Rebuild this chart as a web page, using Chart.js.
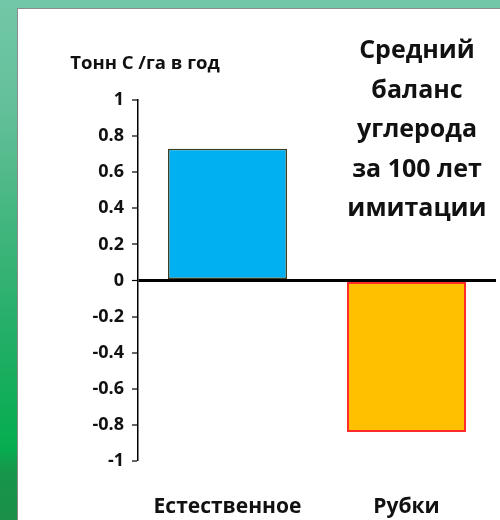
<!DOCTYPE html>
<html>
<head>
<meta charset="utf-8">
<script src="https://cdn.jsdelivr.net/npm/chart.js@4/dist/chart.umd.min.js"></script>
<style>
  html, body { margin: 0; padding: 0; }
  body {
    width: 500px;
    height: 520px;
    overflow: hidden;
    background: linear-gradient(#72c8a8 0%, #62bf98 22%, #3fb57c 45%, #22ae66 65%, #06ad50 86%, #17964b 91%, #1b8f48 100%);
    position: relative;
  }
  .frame {
    position: absolute;
    left: 17px;
    top: 8px;
    width: 483px;
    height: 512px;
    background: #fff;
    border-left: 1px solid #8c8c8c;
    border-top: 1px solid #8c8c8c;
    box-sizing: border-box;
  }
  canvas { display: block; }
</style>
</head>
<body>
<div class="frame">
  <canvas id="balance" width="482" height="511"></canvas>
</div>
<script>
const categories = ['Естественное', 'Рубки'];
const balanceValues = [0.73, -0.84];
const barColors = ['#00b0f0', '#ffc000'];
const barBorders = ['#3f3f22', '#ff2a2a'];
const tickValues = [1, 0.8, 0.6, 0.4, 0.2, 0, -0.2, -0.4, -0.6, -0.8, -1];
const unitLabel = 'Тонн С /га в год';
const titleLines = ['Средний', 'баланс', 'углерода', 'за 100 лет', 'имитации'];

const FONT = '"Open Sans", "DejaVu Sans", sans-serif';
const TEXT_COLOR = '#111';

// headings drawn over the plot: unit label top-left, five-line caption top-right
const captionPlugin = {
  id: 'caption',
  afterDraw(chart) {
    const { ctx } = chart;
    ctx.save();
    ctx.fillStyle = TEXT_COLOR;
    ctx.textAlign = 'center';
    ctx.textBaseline = 'middle';
    ctx.font = `bold 18.5px ${FONT}`;
    ctx.fillText(unitLabel, 127, 55);
    ctx.font = `bold 25px ${FONT}`;
    titleLines.forEach((line, i) => {
      ctx.fillText(line, 399, 42 + i * 39.5);
    });
    ctx.restore();
  },
};

const el = document.getElementById('balance');
// eslint-disable-next-line
new Chart(el, {
  type: 'bar',
  data: {
    labels: categories,
    datasets: [{
      data: balanceValues,
      backgroundColor: barColors,
      borderColor: barBorders,
      borderWidth: [1.5, 2],
      borderSkipped: false,
      barPercentage: 0.665,
      categoryPercentage: 1,
    }],
  },
  options: {
    responsive: false,
    animation: false,
    layout: { padding: { top: 91, right: 4, left: 0, bottom: 0 } },
    plugins: {
      legend: { display: false },
      tooltip: { enabled: false },
    },
    scales: {
      x: {
        grid: { display: false },
        border: { display: false },
        ticks: {
          color: TEXT_COLOR,
          padding: 25,
          font: { family: FONT, size: 21, weight: 'bold' },
        },
        afterFit(scale) { scale.height = 59; },
      },
      y: {
        min: -1,
        max: 1,
        afterBuildTicks(scale) {
          scale.ticks = tickValues.map((v) => ({ value: v }));
        },
        border: { display: true, color: '#000', width: 1.5 },
        grid: {
          drawOnChartArea: true,
          color: (c) => (c.tick && c.tick.value === 0 ? '#000' : 'rgba(0,0,0,0)'),
          lineWidth: (c) => (c.tick && c.tick.value === 0 ? 3 : 0),
          tickColor: '#000',
          tickWidth: 1.2,
          tickLength: 6,
        },
        ticks: {
          color: TEXT_COLOR,
          padding: 8,
          font: { family: FONT, size: 18, weight: 'bold' },
          callback: (v) => String(Number(v.toFixed(1))),
        },
        afterFit(scale) { scale.width = 120; },
      },
    },
  },
  plugins: [captionPlugin],
});
</script>
</body>
</html>
